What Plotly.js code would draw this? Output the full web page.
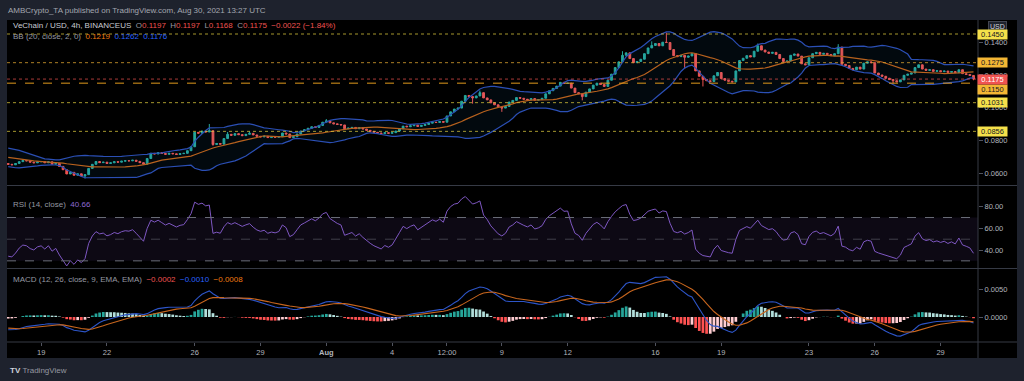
<!DOCTYPE html>
<html>
<head>
<meta charset="utf-8">
<script src="https://cdn.plot.ly/plotly-3.0.1.min.js"></script>
<style>
html,body{margin:0;padding:0;background:#1e222d;overflow:hidden;}
#chart{width:1024px;height:381px;}
</style>
</head>
<body>
<div id="chart"></div>
<script>
// ---------------- DATA ----------------
// 4h candles, first visible candle = 2021-07-17 12:00 UTC
const startTime = Date.UTC(2021, 6, 17, 12, 0);
// closes before the first visible candle (off-screen) so indicators start as shown
const warmupClose = [
  0.0768,0.0756,0.0772,0.0760,0.0752,0.0764,
  0.0754,0.0762,0.0748,0.0756,0.0742,0.0752,
  0.0740,0.0752,0.0738,0.0746,0.0734,0.0748,
  0.0730,0.0744,
  0.0734,0.0726,0.0740,0.0724,0.0736,0.0722,
  0.0730,0.0716,0.0726,0.0708,
  0.0700,0.0684,0.0690,0.0674,0.0682,0.0664,0.0674,0.0660,0.0670,0.0660
];
const close = [
  0.0655,0.0652,0.0660,                                   // Jul 17
  0.0671,0.0678,0.0676,0.0668,0.0664,0.0670,              // Jul 18
  0.0672,0.0664,0.0670,0.0656,0.0661,0.0642,              // Jul 19
  0.0622,0.0596,0.0606,0.0588,0.0597,0.0584,              // Jul 20
  0.0592,0.0630,0.0655,0.0672,0.0665,0.0668,              // Jul 21
  0.0660,0.0664,0.0671,0.0668,0.0674,0.0677,              // Jul 22
  0.0676,0.0680,0.0673,0.0665,0.0656,0.0690,              // Jul 23
  0.0722,0.0718,0.0726,0.0721,0.0716,0.0722,              // Jul 24
  0.0719,0.0715,0.0720,0.0722,0.0738,0.0762,              // Jul 25
  0.0850,0.0845,0.0858,0.0852,0.0860,0.0776,              // Jul 26
  0.0782,0.0778,0.0812,0.0838,0.0832,0.0842,              // Jul 27
  0.0836,0.0830,0.0838,0.0844,0.0834,0.0826,              // Jul 28
  0.0822,0.0826,0.0818,0.0822,0.0820,0.0824,              // Jul 29
  0.0846,0.0840,0.0818,0.0824,0.0840,0.0858,              // Jul 30
  0.0866,0.0875,0.0884,0.0880,0.0892,0.0912,              // Jul 31
  0.0920,0.0908,0.0902,0.0898,0.0895,0.0872,              // Aug 1
  0.0876,0.0880,0.0872,0.0878,0.0870,0.0862,              // Aug 2
  0.0856,0.0850,0.0846,0.0842,0.0848,0.0844,              // Aug 3
  0.0848,0.0858,0.0872,0.0888,0.0884,0.0890,              // Aug 4
  0.0894,0.0886,0.0892,0.0898,0.0906,0.0912,              // Aug 5
  0.0910,0.0916,0.0912,0.0950,0.0975,0.0992,              // Aug 6
  0.0998,0.1040,0.1075,0.1068,0.1060,0.1072,              // Aug 7
  0.1092,0.1060,0.1048,0.1030,0.1018,0.1005,              // Aug 8
  0.0998,0.1008,0.1035,0.1045,0.1062,0.1058,              // Aug 9
  0.1052,0.1048,0.1056,0.1046,0.1050,0.1058,              // Aug 10
  0.1085,0.1104,0.1118,0.1132,0.1155,0.1148,              // Aug 11
  0.1150,0.1120,0.1092,0.1085,0.1068,0.1095,              // Aug 12
  0.1115,0.1138,0.1150,0.1142,0.1130,0.1168,              // Aug 13
  0.1205,0.1245,0.1280,0.1320,0.1335,0.1300,              // Aug 14
  0.1275,0.1282,0.1296,0.1330,0.1365,0.1380,              // Aug 15
  0.1392,0.1378,0.1400,0.1398,0.1355,0.1318,              // Aug 16
  0.1312,0.1320,0.1308,0.1316,0.1330,0.1225,              // Aug 17
  0.1192,0.1172,0.1165,0.1160,0.1195,0.1215,              // Aug 18
  0.1178,0.1168,0.1162,0.1158,0.1225,0.1288,              // Aug 19
  0.1302,0.1318,0.1310,0.1345,0.1378,0.1352,              // Aug 20
  0.1340,0.1332,0.1338,0.1325,0.1300,0.1282,              // Aug 21
  0.1285,0.1320,0.1328,0.1315,0.1268,0.1262,              // Aug 22
  0.1305,0.1330,0.1338,0.1326,0.1332,0.1325,              // Aug 23
  0.1318,0.1330,0.1370,0.1265,0.1258,0.1240,              // Aug 24
  0.1232,0.1248,0.1236,0.1272,0.1280,0.1275,              // Aug 25
  0.1212,0.1200,0.1192,0.1180,0.1172,0.1165,              // Aug 26
  0.1158,0.1170,0.1198,0.1205,0.1212,0.1245,              // Aug 27
  0.1262,0.1236,0.1228,0.1232,0.1222,0.1226,              // Aug 28
  0.1220,0.1224,0.1216,0.1221,0.1214,0.1232,              // Aug 29
  0.1208,0.1203,0.1197,0.1175                             // Aug 30
];
// visible wicks (candle index, high, low); other candles have no visible wick
const wickIdx  = [21,     55,     56,     60,     66,     87,     127,    129,    135,    157,    168,    176,    180,    185,    190,    205,    227,    242,    264];
const wickHigh = [null,   0.0901, null,   0.0852, 0.0854, 0.0931, null,   0.1105, null,   null,   0.1345, 0.1405, 0.1458, null,   null,   0.1392, 0.1388, null,   0.1197];
const wickLow  = [0.0568, null,   0.0768, null,   null,   null,   0.1025, null,   0.0975, 0.1045, null,   null,   null,   0.1240, 0.1130, null,   null,   0.1148, 0.1168];

// horizontal levels drawn on the chart
const levelPrices = [0.1450, 0.1275, 0.1150, 0.1031, 0.0856];
const levelLabels = ['0.1450', '0.1275', '0.1150', '0.1031', '0.0856'];

// axis ticks
const tickDates  = ['2021-07-19','2021-07-22','2021-07-26','2021-07-29','2021-08-01','2021-08-04','2021-08-06 12:00','2021-08-09','2021-08-12','2021-08-16','2021-08-19','2021-08-23','2021-08-26','2021-08-29'];
const tickLabels = ['19','22','26','29','<b>Aug</b>','4','12:00','9','12','16','19','23','26','29'];
const priceTicks = [0.06, 0.08, 0.10, 0.12, 0.14];
const priceTickText = ['0.0600','0.0800','0.1000','0.1200','0.1400'];
const rsiTicks = [40, 60, 80];
const rsiTickText = ['40.00','60.00','80.00'];
const macdTicks = [0, 0.005];
const macdTickText = ['0.0000','0.0050'];

// legend texts as shown
const legendOHLC = ['0.1197','0.1197','0.1168','0.1175','\u22120.0022 (\u22121.84%)'];
const legendBB = ['0.1219','0.1262','0.1176'];
const legendRSI = '40.66';
const legendMACD = ['\u22120.0002','\u22120.0010','\u22120.0008'];

// ---------------- BUILD SERIES ----------------
function fmt(ms){ return new Date(ms).toISOString().slice(0,16).replace('T',' '); }
const times = close.map((_, i) => fmt(startTime + i*4*3600e3));
const open = close.map((c, i) => i === 0 ? warmupClose[warmupClose.length-1] : close[i-1]);
const high = close.map((c, i) => Math.max(c, open[i]));
const low  = close.map((c, i) => Math.min(c, open[i]));
wickIdx.forEach((k, j) => {
  if (wickHigh[j] !== null) high[k] = Math.max(high[k], wickHigh[j]);
  if (wickLow[j] !== null) low[k] = Math.min(low[k], wickLow[j]);
});

const all = warmupClose.concat(close);
const W = warmupClose.length, N = all.length;

// Bollinger Bands (20, 2)
const bbMid = [], bbUp = [], bbLo = [];
for (let i = 0; i < N; i++) {
  if (i < 19) { bbMid.push(null); bbUp.push(null); bbLo.push(null); continue; }
  let s = 0; for (let k = i-19; k <= i; k++) s += all[k];
  const m = s/20;
  let v = 0; for (let k = i-19; k <= i; k++) v += (all[k]-m)*(all[k]-m);
  const sd = Math.sqrt(v/20);
  bbMid.push(m); bbUp.push(m+2*sd); bbLo.push(m-2*sd);
}
// RSI 14 (Wilder)
const rsi = new Array(N).fill(null);
{
  let ag = 0, al = 0;
  for (let i = 1; i <= 14; i++) { const d = all[i]-all[i-1]; ag += Math.max(d,0); al += Math.max(-d,0); }
  ag /= 14; al /= 14;
  rsi[14] = al === 0 ? 100 : 100 - 100/(1+ag/al);
  for (let i = 15; i < N; i++) {
    const d = all[i]-all[i-1];
    ag = (ag*13 + Math.max(d,0))/14; al = (al*13 + Math.max(-d,0))/14;
    rsi[i] = al === 0 ? 100 : 100 - 100/(1+ag/al);
  }
}
// MACD 12 26 9
function ema(src, n, start) {
  const out = new Array(src.length).fill(null);
  const a = 2/(n+1);
  let s = 0; for (let i = start; i < start+n; i++) s += src[i];
  let prev = s/n; out[start+n-1] = prev;
  for (let i = start+n; i < src.length; i++) { prev = a*src[i] + (1-a)*prev; out[i] = prev; }
  return out;
}
const e12 = ema(all, 12, 0), e26 = ema(all, 26, 0);
const macd = all.map((_, i) => i >= 25 ? e12[i]-e26[i] : null);
const sig = ema(macd, 9, 25);
const hist = all.map((_, i) => (macd[i] !== null && sig[i] !== null) ? macd[i]-sig[i] : null);

const vis = a => a.slice(W);
const histV = vis(hist);
const histPrev = hist.slice(W-1, N-1);
const histColors = histV.map((h, i) => {
  const p = histPrev[i];
  if (h >= 0) return h > p ? '#26a69a' : '#b2dfdb';
  return h > p ? '#ffcdd2' : '#ff5252';
});

// ---------------- GEOMETRY helpers (page pixels -> paper) ----------------
const PL = 7, PR = 978, PT = 20, PB = 342;
const X = px => (px - PL) / (PR - PL);
const Y = py => (PB - py) / (PB - PT);

const lastClose = close[close.length-1];

// ---------------- TRACES ----------------
const traces = [
  {type:'scatter', mode:'lines', x:times, y:vis(bbUp), xaxis:'x', yaxis:'y',
   line:{color:'#2b4fb5', width:1.2}, hoverinfo:'skip'},
  {type:'scatter', mode:'lines', x:times, y:vis(bbLo), xaxis:'x', yaxis:'y',
   line:{color:'#2b4fb5', width:1.2}, fill:'tonexty', fillcolor:'rgba(33,150,243,0.06)', hoverinfo:'skip'},
  {type:'scatter', mode:'lines', x:times, y:vis(bbMid), xaxis:'x', yaxis:'y',
   line:{color:'#b8621e', width:1.2}, hoverinfo:'skip'},
  {type:'candlestick', x:times, open:open, high:high, low:low, close:close, xaxis:'x', yaxis:'y',
   increasing:{line:{color:'#26a69a', width:1}, fillcolor:'#26a69a'},
   decreasing:{line:{color:'#ef5350', width:1}, fillcolor:'#ef5350'},
   whiskerwidth:0, hoverinfo:'skip'},
  {type:'scatter', mode:'lines', x:times, y:vis(rsi), xaxis:'x', yaxis:'y2',
   line:{color:'#7e57c2', width:1}, hoverinfo:'skip'},
  {type:'bar', x:times, y:histV, xaxis:'x', yaxis:'y3',
   marker:{color:histColors, line:{width:0}}, hoverinfo:'skip'},
  {type:'scatter', mode:'lines', x:times, y:vis(macd), xaxis:'x', yaxis:'y3',
   line:{color:'#2d55c8', width:1.1}, hoverinfo:'skip'},
  {type:'scatter', mode:'lines', x:times, y:vis(sig), xaxis:'x', yaxis:'y3',
   line:{color:'#c8661e', width:1.1}, hoverinfo:'skip'}
];

// ---------------- SHAPES ----------------
const sepColor = '#363a45';
const shapes = [
  // black chart frame
  {type:'rect', xref:'paper', yref:'paper', x0:X(7), x1:X(1017), y0:Y(358), y1:Y(20),
   fillcolor:'#000000', line:{width:0}, layer:'below'},
  // RSI 30-70 background
  {type:'rect', xref:'paper', yref:'y2', x0:0, x1:1, y0:30, y1:70,
   fillcolor:'rgba(126,87,194,0.10)', line:{width:0}, layer:'below'},
  {type:'line', xref:'paper', yref:'y2', x0:0, x1:1, y0:70, y1:70, line:{color:'#6a6d78', width:1, dash:'dash'}},
  {type:'line', xref:'paper', yref:'y2', x0:0, x1:1, y0:50, y1:50, line:{color:'rgba(106,109,120,0.55)', width:1, dash:'dash'}},
  {type:'line', xref:'paper', yref:'y2', x0:0, x1:1, y0:30, y1:30, line:{color:'#6a6d78', width:1, dash:'dash'}},
  // pane separators
  {type:'line', xref:'paper', yref:'paper', x0:X(7), x1:X(1017), y0:Y(185.5), y1:Y(185.5), line:{color:sepColor, width:1}},
  {type:'line', xref:'paper', yref:'paper', x0:X(7), x1:X(1017), y0:Y(268.5), y1:Y(268.5), line:{color:sepColor, width:1}},
  {type:'line', xref:'paper', yref:'paper', x0:X(7), x1:X(1017), y0:Y(342), y1:Y(342), line:{color:sepColor, width:1}},
  {type:'line', xref:'paper', yref:'paper', x0:1, x1:1, y0:Y(358), y1:Y(20), line:{color:sepColor, width:1}}
];
const levelLine = [
  {color:'rgba(220,200,60,0.75)', dash:'dot'},
  {color:'rgba(230,170,50,0.75)', dash:'dot'},
  {color:'#e09a1c', dash:'dash'},
  {color:'rgba(220,200,60,0.75)', dash:'dot'},
  {color:'rgba(220,200,60,0.75)', dash:'dot'}
];
levelPrices.forEach((p, j) => shapes.push({type:'line', xref:'paper', yref:'y', x0:0, x1:1, y0:p, y1:p,
  line:{color:levelLine[j].color, width:1, dash:levelLine[j].dash}}));
shapes.push({type:'line', xref:'paper', yref:'y', x0:0, x1:1, y0:lastClose, y1:lastClose,
  line:{color:'rgba(239,83,80,0.7)', width:1, dash:'dot'}});

// ---------------- ANNOTATIONS ----------------
const FONT = 'Liberation Sans, Arial, sans-serif';
const gray = '#9598a1', light = '#c9ccd4';
const sp = '&nbsp;';
const c = (col, t) => `<span style="color:${col}">${t}</span>`;
const annotations = [
  {xref:'paper', yref:'paper', x:X(6), y:Y(10), xanchor:'left', yanchor:'middle', showarrow:false,
   text:'AMBCrypto_TA published on TradingView.com, Aug 30, 2021 13:27 UTC', font:{family:FONT, size:8, color:'#a3a6af'}},
  {xref:'paper', yref:'paper', x:X(11), y:Y(25.5), xanchor:'left', yanchor:'middle', showarrow:false,
   text: c(light,'VeChain / USD, 4h, BINANCEUS') + sp+sp + c(gray,'O') + c('#ef5350', legendOHLC[0]) + sp+sp + c(gray,'H') + c('#ef5350', legendOHLC[1]) + sp+sp + c(gray,'L') + c('#ef5350', legendOHLC[2]) + sp+sp + c(gray,'C') + c('#ef5350', legendOHLC[3]) + sp+sp + c('#ef5350', legendOHLC[4]),
   font:{family:FONT, size:8, color:light}},
  {xref:'paper', yref:'paper', x:X(11), y:Y(36.5), xanchor:'left', yanchor:'middle', showarrow:false,
   text: c(gray,'BB (20, close, 2, 0)') + sp+sp + c('#ef7a12', legendBB[0]) + sp+sp + c('#2962ff', legendBB[1]) + sp+sp + c('#2962ff', legendBB[2]),
   font:{family:FONT, size:8, color:gray}},
  {xref:'paper', yref:'paper', x:X(11), y:Y(204.5), xanchor:'left', yanchor:'middle', showarrow:false,
   text: c(gray,'RSI (14, close)') + sp+sp + c('#8e6ad4', legendRSI), font:{family:FONT, size:8, color:gray}},
  {xref:'paper', yref:'paper', x:X(11), y:Y(279.5), xanchor:'left', yanchor:'middle', showarrow:false,
   text: c(gray,'MACD (12, 26, close, 9, EMA, EMA)') + sp+sp + c('#ef5350', legendMACD[0]) + sp+sp + c('#2962ff', legendMACD[1]) + sp+sp + c('#ef7a12', legendMACD[2]),
   font:{family:FONT, size:8, color:gray}},
  {xref:'paper', yref:'paper', x:X(8), y:Y(370), xanchor:'left', yanchor:'middle', showarrow:false,
   text: c('#d1d4dc','<b>TV</b>') + sp + c('#9598a1','TradingView'), font:{family:FONT, size:8, color:gray}},
  {xref:'paper', yref:'paper', x:X(997.5), y:Y(26), xanchor:'center', yanchor:'middle', showarrow:false,
   text:'USD', font:{family:FONT, size:7, color:'#d1d4dc'}, bgcolor:'#1e222d', bordercolor:'#434651', borderwidth:1, borderpad:1}
];
const levelBox = ['#f5e04a', '#f3b634', '#f3b634', '#f5e04a', '#f5e04a'];
const levelShift = [0, 0, -6, 0, 0];
levelPrices.forEach((p, j) => annotations.push({xref:'paper', yref:'y', x:X(977), y:p, xanchor:'left', yanchor:'middle',
  yshift:levelShift[j], showarrow:false, text:levelLabels[j], font:{family:FONT, size:7.5, color:'#131722'},
  bgcolor:levelBox[j], width:29, height:9, borderpad:0, align:'center', valign:'middle'}));
annotations.push({xref:'paper', yref:'y', x:X(977), y:lastClose, xanchor:'left', yanchor:'middle', showarrow:false,
  text:lastClose.toFixed(4), font:{family:FONT, size:7.5, color:'#ffffff'}, bgcolor:'#f05350', width:29, height:9, borderpad:0,
  align:'center', valign:'middle'});

// ---------------- LAYOUT ----------------
const axisFont = {family:FONT, size:7.5, color:'#b2b5be'};
const yCommon = {side:'right', anchor:'x', showgrid:false, zeroline:false, showline:false, ticks:'outside', ticklen:4,
  tickcolor:'#50535e', tickfont:axisFont, fixedrange:true};
const layout = {
  width:1024, height:381,
  margin:{l:PL, r:1024-PR, t:PT, b:381-PB, pad:0},
  paper_bgcolor:'#1e222d', plot_bgcolor:'rgba(0,0,0,0)',
  showlegend:false, hovermode:false, bargap:0.25,
  xaxis:{type:'date', anchor:'y3', range:['2021-07-17 10:40','2021-08-30 16:55'],
    tickvals:tickDates, ticktext:tickLabels, tickmode:'array',
    showgrid:false, zeroline:false, showline:false, ticks:'outside', ticklen:3, tickcolor:'#50535e',
    tickfont:axisFont, rangeslider:{visible:false}, fixedrange:true},
  yaxis: Object.assign({}, yCommon, {domain:[Y(185), 1], range:[0.05287, 0.15354], tickvals:priceTicks, ticktext:priceTickText}),
  yaxis2: Object.assign({}, yCommon, {domain:[Y(268), Y(186)], range:[23.4, 99.1], tickvals:rsiTicks, ticktext:rsiTickText}),
  yaxis3: Object.assign({}, yCommon, {domain:[0, Y(269)], range:[-0.004464, 0.008571], tickvals:macdTicks, ticktext:macdTickText}),
  shapes: shapes,
  annotations: annotations
};

Plotly.newPlot('chart', traces, layout, {displayModeBar:false, staticPlot:true});
</script>
</body>
</html>
